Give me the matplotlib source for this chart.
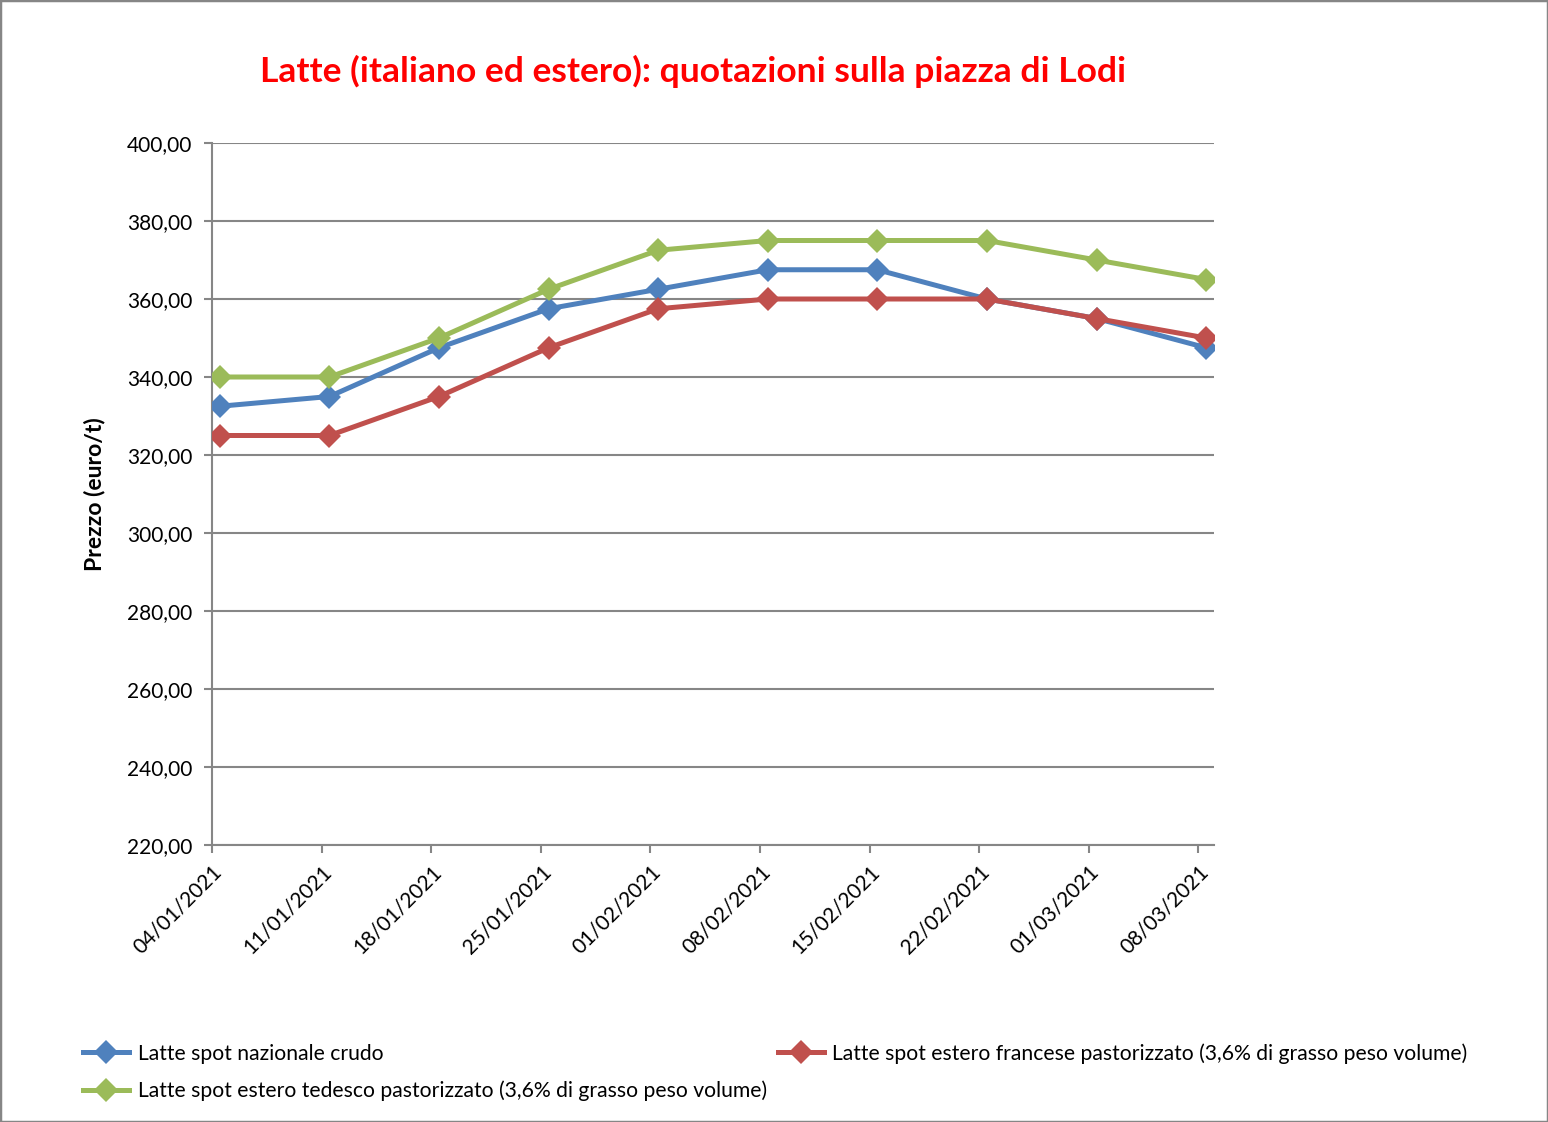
import matplotlib
matplotlib.use("Agg")
import matplotlib.pyplot as plt
from matplotlib.patches import Rectangle
from matplotlib.ticker import FuncFormatter, MultipleLocator
import numpy as np

plt.rcParams["font.family"] = ["Lato", "DejaVu Sans"]

dates = ["04/01/2021", "11/01/2021", "18/01/2021", "25/01/2021", "01/02/2021",
         "08/02/2021", "15/02/2021", "22/02/2021", "01/03/2021", "08/03/2021"]
nazionale = [332.5, 335.0, 347.5, 357.5, 362.5, 367.5, 367.5, 360.0, 355.0, 347.5]
francese = [325.0, 325.0, 335.0, 347.5, 357.5, 360.0, 360.0, 360.0, 355.0, 350.0]
tedesco = [340.0, 340.0, 350.0, 362.5, 372.5, 375.0, 375.0, 375.0, 370.0, 365.0]

labels = [
    "Latte spot nazionale crudo",
    "Latte spot estero francese pastorizzato (3,6% di grasso peso volume)",
    "Latte spot estero tedesco pastorizzato (3,6% di grasso peso volume)",
]
colors = ["#4F81BD", "#C0504D", "#9BBB59"]
grid_color = "#868686"

# date axis in days: weekly ticks, points at the middle of each day
days = np.arange(len(dates)) * 7
x = days + 0.5

fig = plt.figure(figsize=(15.48, 11.22), dpi=100)
ax = fig.add_axes([212 / 1548, 1 - 845 / 1122, 1002 / 1548, 702 / 1122])

handles = []
for y, c, lab in zip([nazionale, francese, tedesco], colors, labels):
    (h,) = ax.plot(x, y, color=c, lw=3.6, marker="D", markersize=12.5,
                   markeredgewidth=0, label=lab, zorder=3)
    handles.append(h)

ax.set_xlim(0, 64)
ax.set_ylim(220, 400)
ax.yaxis.set_major_locator(MultipleLocator(20))
ax.yaxis.set_major_formatter(FuncFormatter(lambda v, p: f"{v:.2f}".replace(".", ",")))
ax.set_xticks(days)
ax.set_xticklabels(dates, rotation=45, ha="right", rotation_mode="anchor")

ax.grid(axis="y", color=grid_color, lw=1.5)
ax.set_axisbelow(True)
for s in ["top", "right"]:
    ax.spines[s].set_visible(False)
for s in ["left", "bottom"]:
    ax.spines[s].set_color(grid_color)
    ax.spines[s].set_linewidth(1.5)
ax.tick_params(axis="both", colors=grid_color, width=1.5, length=6, labelsize=15,
               labelcolor="black")
ax.tick_params(axis="y", pad=8)
ax.tick_params(axis="x", pad=6)

fig.text(0.061, 1 - 494 / 1122, "Prezzo (euro/t)", rotation=90, fontsize=16.5,
         fontweight="bold", ha="center", va="center")
fig.text(693 / 1548, 1 - 71 / 1122,
         "Latte (italiano ed estero): quotazioni sulla piazza di Lodi",
         color="red", fontsize=25.5, fontweight="bold", ha="center", va="center")

fig.legend([handles[0], handles[2], handles[1]], [labels[0], labels[2], labels[1]],
           ncol=2, loc="upper left", bbox_to_anchor=(64 / 1548, 1 - 1024 / 1122),
           frameon=False, fontsize=15.2, handlelength=2.2, columnspacing=0.5,
           labelspacing=0.8, handletextpad=0.4)

fig.add_artist(Rectangle((0, 0), 1, 1, transform=fig.transFigure, fill=False,
                         edgecolor=grid_color, lw=2.5))

fig.savefig("out.png", dpi=100)
